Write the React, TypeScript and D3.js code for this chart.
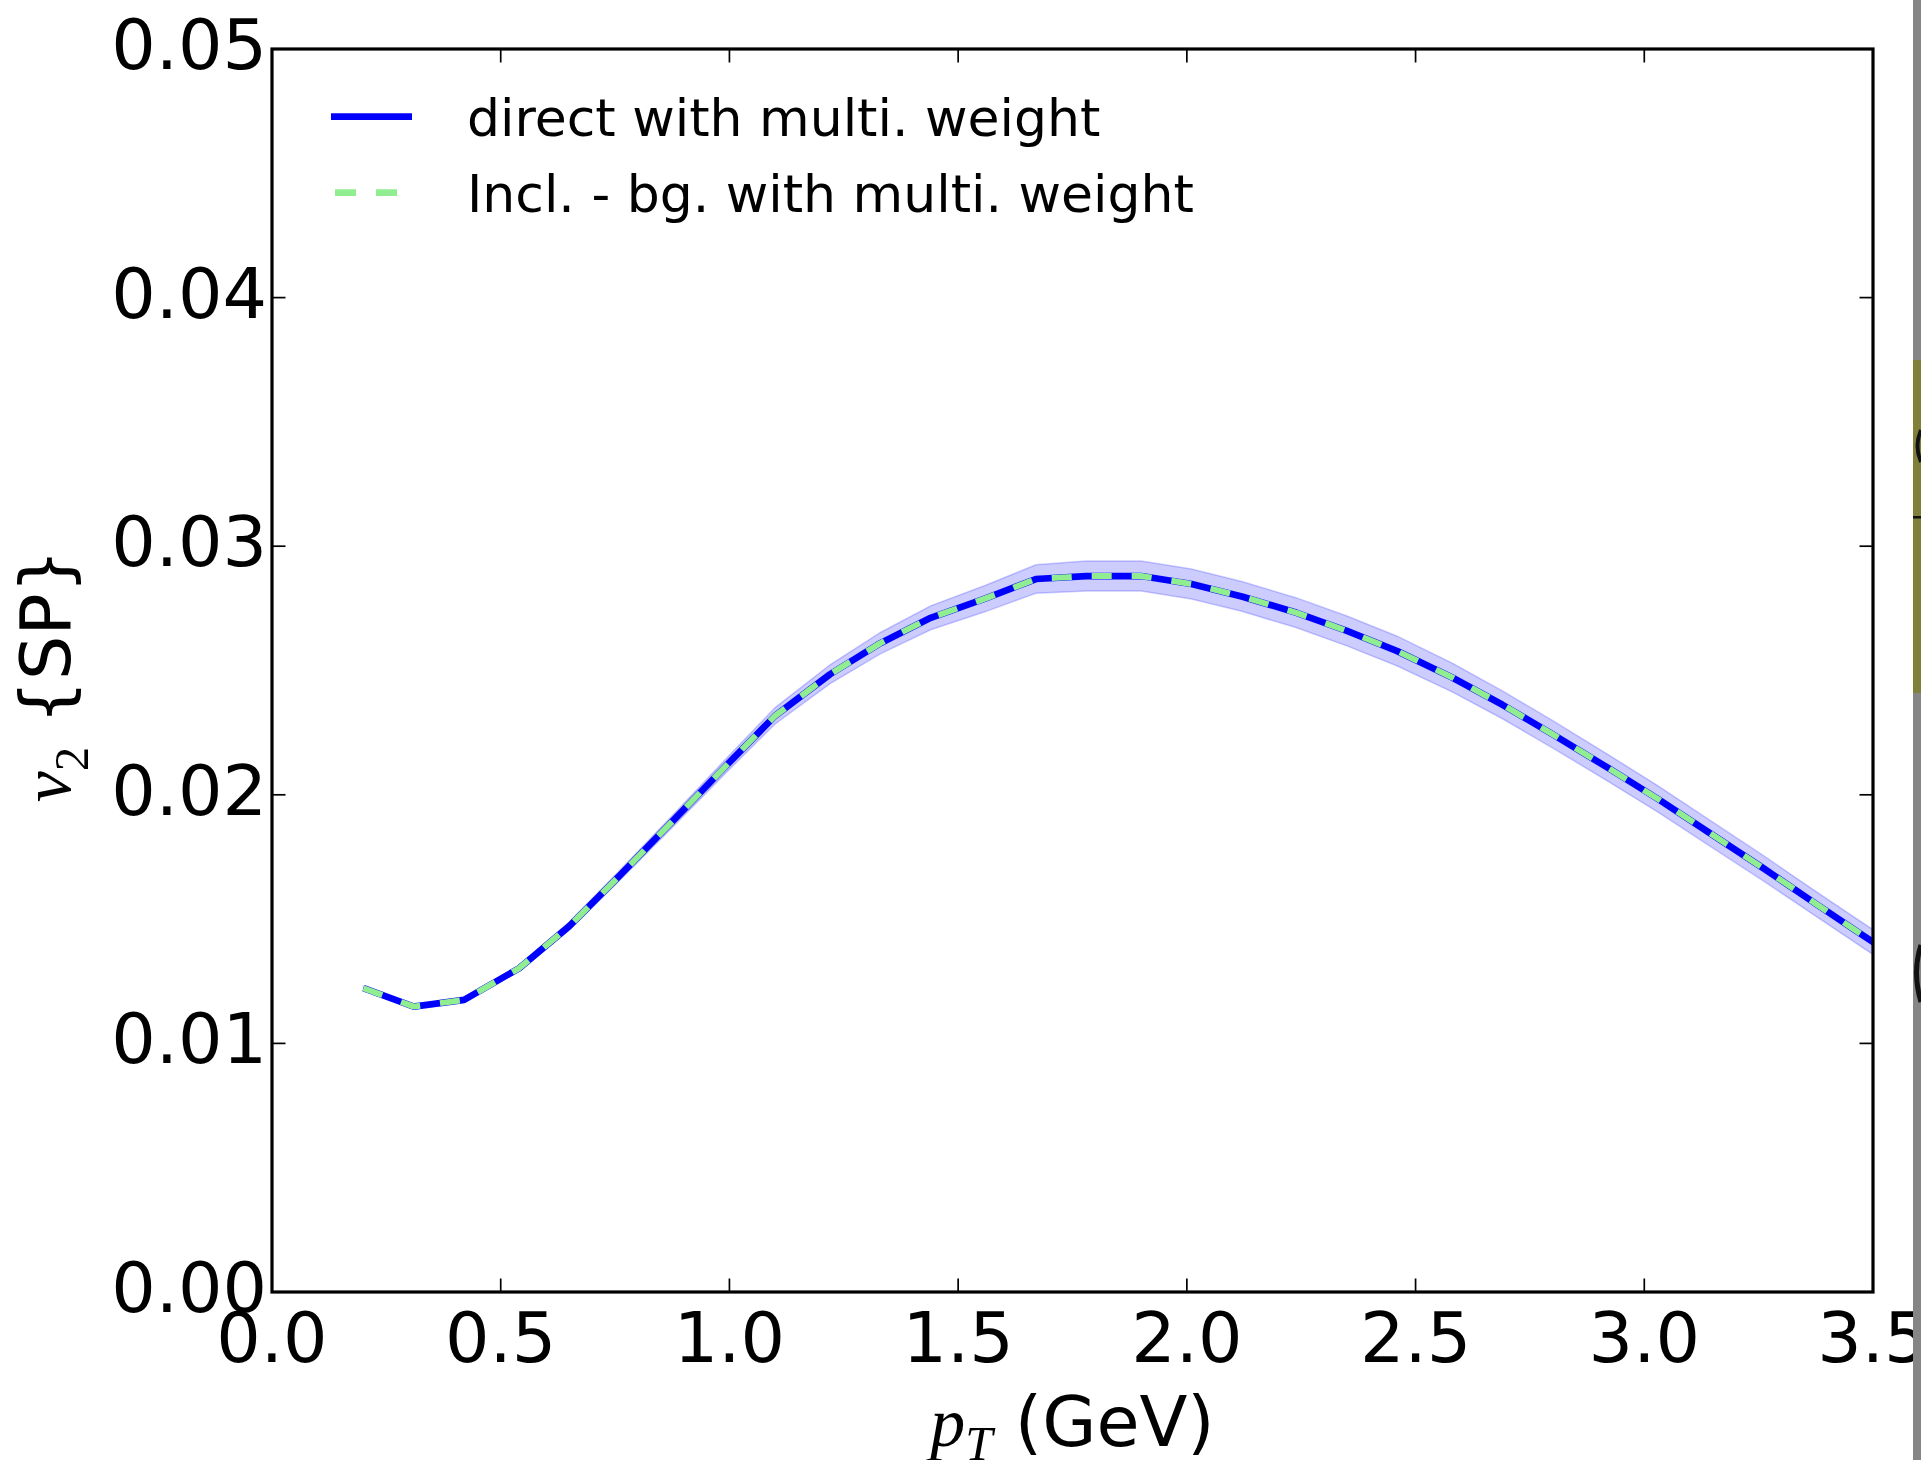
import React from "react";
import * as d3 from "d3";

// pT bin centres (GeV) and the scalar-product v2 curve with its uncertainty
const pT = [0.2, 0.31, 0.42, 0.54, 0.65, 0.76, 0.88, 0.99, 1.1, 1.22, 1.33, 1.44, 1.56, 1.67, 1.78, 1.9, 2.01, 2.12, 2.24, 2.35, 2.46, 2.58, 2.69, 2.8, 2.92, 3.03, 3.14, 3.26, 3.37, 3.48, 3.6];
const v2Direct = [0.01222, 0.01148, 0.01175, 0.01302, 0.01472, 0.01675, 0.01902, 0.02112, 0.02318, 0.02485, 0.0261, 0.02712, 0.0279, 0.02868, 0.0288, 0.0288, 0.02848, 0.02798, 0.02732, 0.02659, 0.02578, 0.02472, 0.02362, 0.02243, 0.02109, 0.01983, 0.0185, 0.01705, 0.01568, 0.01432, 0.01288];
const v2InclMinusBg = [0.01222, 0.01148, 0.01175, 0.01302, 0.01472, 0.01675, 0.01902, 0.02112, 0.02318, 0.02485, 0.0261, 0.02712, 0.0279, 0.02868, 0.0288, 0.0288, 0.02848, 0.02798, 0.02732, 0.02659, 0.02578, 0.02472, 0.02362, 0.02243, 0.02109, 0.01983, 0.0185, 0.01705, 0.01568, 0.01432, 0.01288];
const v2Err = [0.00008, 0.00008, 0.0001, 0.00012, 0.00016, 0.0002, 0.00024, 0.00028, 0.00033, 0.00038, 0.00043, 0.00048, 0.00053, 0.00057, 0.0006, 0.0006, 0.0006, 0.0006, 0.0006, 0.0006, 0.0006, 0.00058, 0.00056, 0.00055, 0.00054, 0.00053, 0.00052, 0.00051, 0.0005, 0.0005, 0.0005];

const xTicks = [0.0, 0.5, 1.0, 1.5, 2.0, 2.5, 3.0, 3.5];
const yTicks = [0.0, 0.01, 0.02, 0.03, 0.04, 0.05];
const legendLabels = ["direct with multi. weight", "Incl. - bg. with multi. weight"];

const W = 1921;
const H = 1460;
const L = 272;
const R = 1873;
const T = 49;
const B = 1292;

const SANS = "'DejaVu Sans', 'Bitstream Vera Sans', sans-serif";
const SERIF = "'Liberation Serif', 'DejaVu Serif', serif";

export default function App() {
  const x = d3.scaleLinear().domain([0, 3.5]).range([L, R]);
  const y = d3.scaleLinear().domain([0, 0.05]).range([B, T]);

  const rows = pT.map((p, i) => ({ p, v: v2Direct[i], w: v2InclMinusBg[i], e: v2Err[i] }));

  const band = d3
    .area<(typeof rows)[number]>()
    .x((d) => x(d.p))
    .y0((d) => y(d.v - d.e))
    .y1((d) => y(d.v + d.e))(rows) as string;
  const lineDirect = d3
    .line<(typeof rows)[number]>()
    .x((d) => x(d.p))
    .y((d) => y(d.v))(rows) as string;
  const lineIncl = d3
    .line<(typeof rows)[number]>()
    .x((d) => x(d.p))
    .y((d) => y(d.w))(rows) as string;

  const tickLen = 13.5;
  const fmtY = d3.format(".2f");
  const fmtX = d3.format(".1f");

  return (
    <svg
      width={W}
      height={H}
      viewBox={`0 0 ${W} ${H}`}
      style={{ position: "absolute", left: 0, top: 0, display: "block", background: "#fff" }}
    >
      <defs>
        <clipPath id="plotArea">
          <rect x={L} y={T} width={R - L} height={B - T} />
        </clipPath>
      </defs>
      <rect x={0} y={0} width={W} height={H} fill="#fff" />

      {/* uncertainty band and the two curves */}
      <g clipPath="url(#plotArea)">
        <path d={band} fill="rgba(0,0,255,0.2)" stroke="rgba(0,0,255,0.2)" strokeWidth={1.5} />
        <path d={lineDirect} fill="none" stroke="#0000ff" strokeWidth={6.7} strokeLinejoin="round" />
        <path
          d={lineIncl}
          fill="none"
          stroke="#90ee90"
          strokeWidth={6}
          strokeDasharray="20 20"
          strokeLinejoin="round"
        />
      </g>

      {/* ticks on all four sides, pointing inward */}
      <g stroke="#000" strokeWidth={1.7}>
        {xTicks.map((t) => (
          <g key={`xt${t}`}>
            <line x1={x(t)} x2={x(t)} y1={B} y2={B - tickLen} />
            <line x1={x(t)} x2={x(t)} y1={T} y2={T + tickLen} />
          </g>
        ))}
        {yTicks.map((t) => (
          <g key={`yt${t}`}>
            <line x1={L} x2={L + tickLen} y1={y(t)} y2={y(t)} />
            <line x1={R} x2={R - tickLen} y1={y(t)} y2={y(t)} />
          </g>
        ))}
      </g>

      {/* axes frame */}
      <rect x={L} y={T} width={R - L} height={B - T} fill="none" stroke="#000" strokeWidth={3.2} />

      {/* tick labels */}
      <g fontFamily={SANS} fontSize={70} fill="#000">
        {yTicks.map((t) => (
          <text key={`yl${t}`} x={L - 5} y={y(t) + 20} textAnchor="end">
            {fmtY(t)}
          </text>
        ))}
        {xTicks.map((t) => (
          <text key={`xl${t}`} x={x(t)} y={B + 70} textAnchor="middle">
            {fmtX(t)}
          </text>
        ))}
      </g>

      {/* axis titles */}
      <text x={(L + R) / 2} y={1446} textAnchor="middle" fontSize={70} fill="#000" fontFamily={SANS}>
        <tspan fontFamily={SERIF} fontStyle="italic">p</tspan>
        <tspan fontFamily={SERIF} fontStyle="italic" fontSize={49} dy={14}>T</tspan>
        <tspan dy={-14} fontFamily={SANS}>{" (GeV)"}</tspan>
      </text>
      <text
        transform={`translate(70, ${(T + B) / 2 + 5}) rotate(-90)`}
        textAnchor="middle"
        fontSize={70}
        fill="#000"
        fontFamily={SANS}
      >
        <tspan fontFamily={SERIF} fontStyle="italic">v</tspan>
        <tspan fontFamily={SERIF} fontSize={49} dy={18}>2</tspan>
        <tspan dy={-18} fontFamily={SANS}>{"  {SP}"}</tspan>
      </text>

      {/* legend */}
      <g>
        <line x1={331} x2={412} y1={116.7} y2={116.7} stroke="#0000ff" strokeWidth={6.7} />
        <text x={467} y={136} fontFamily={SANS} fontSize={52} fill="#000">
          {legendLabels[0]}
        </text>
        <line
          x1={335}
          x2={397}
          y1={192.7}
          y2={192.7}
          stroke="#90ee90"
          strokeWidth={6.7}
          strokeDasharray="21 20"
        />
        <text x={467} y={212} fontFamily={SANS} fontSize={52} fill="#000">
          {legendLabels[1]}
        </text>
      </g>

      {/* neighbouring panel edge at the far right */}
      <g>
        <rect x={1913} y={0} width={8} height={H} fill="#858585" />
        <rect x={1913} y={360} width={8} height={333} fill="#80803a" />
        <path d="M1921,430 Q1914,446 1921,462" fill="none" stroke="#111" strokeWidth={4} />
        <rect x={1913} y={516} width={8} height={2.5} fill="#111" />
        <path d="M1921,945 Q1912,972 1921,1002" fill="none" stroke="#111" strokeWidth={5} />
      </g>
    </svg>
  );
}
